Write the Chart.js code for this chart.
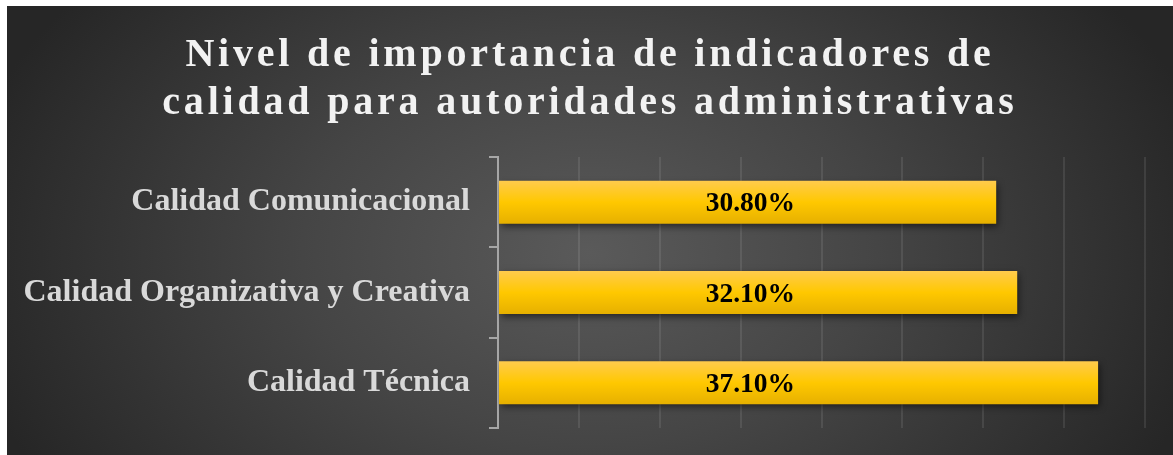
<!DOCTYPE html>
<html>
<head>
<meta charset="utf-8">
<script src="https://cdn.jsdelivr.net/npm/chart.js@4"></script>
<style>
  html, body { margin: 0; padding: 0; background: #ffffff; }
  #wrap {
    position: absolute;
    left: 7px; top: 6px;
    width: 1166px; height: 449px;
    background: radial-gradient(ellipse 640px 430px at 50% 55%, #5a5a5a 0%, #454545 45%, #262626 100%);
  }
  #title {
    position: absolute;
    left: 0; top: 23px; width: 100%;
    text-align: center;
    font-family: "Liberation Serif", "Times New Roman", serif;
    font-weight: bold;
    font-size: 40px;
    line-height: 48px;
    letter-spacing: 3.8px;
    color: #f2f2f2;
  }
  canvas { position: absolute; left: 0; top: 0; }
</style>
</head>
<body>
<div id="wrap">
  <canvas id="chart"></canvas>
  <div id="title">Nivel de importancia de indicadores de<br>calidad para autoridades administrativas</div>
</div>
<script>
// Data
const categories = ['Calidad Comunicacional', 'Calidad Organizativa y Creativa', 'Calidad Técnica'];
const percentages = [30.8, 32.1, 37.1];
const valueLabels = ['30.80%', '32.10%', '37.10%'];
const axisTicks = [0, 5, 10, 15, 20, 25, 30, 35, 40];

const ctx = document.getElementById('chart').getContext('2d');
const serif = '"Liberation Serif", "Times New Roman", serif';

// gold gradient per bar, built from the y scale
function barGradient(context) {
    const chart = context.chart;
    const y = chart.scales.y;
    if (!chart.chartArea || !y) return '#ffc800';
    const center = y.getPixelForValue(context.dataIndex);
    const half = 21.5;
    const g = chart.ctx.createLinearGradient(0, center - half, 0, center + half);
    g.addColorStop(0, '#ffcb4d');
    g.addColorStop(0.5, '#ffc800');
    g.addColorStop(1, '#e6b000');
    return g;
}

const shadowPlugin = {
    id: 'barShadow',
    beforeDatasetDraw(chart) {
        const c = chart.ctx;
        c.save();
        c.shadowColor = 'rgba(0, 0, 0, 0.55)';
        c.shadowBlur = 7;
        c.shadowOffsetX = 2;
        c.shadowOffsetY = 3;
    },
    afterDatasetDraw(chart) {
        chart.ctx.restore();
    }
};

const valueLabelPlugin = {
    id: 'valueLabels',
    afterDatasetsDraw(chart) {
        const c = chart.ctx;
        const x = chart.scales.x.getPixelForValue(15.6);
        c.save();
        c.font = 'bold 27.5px ' + serif;
        c.fillStyle = '#000000';
        c.textAlign = 'center';
        c.textBaseline = 'middle';
        chart.getDatasetMeta(0).data.forEach((bar, i) => {
            c.fillText(valueLabels[i], x, bar.y + 2);
        });
        c.restore();
    }
};

new Chart(ctx, {
    type: 'bar',
    data: {
        labels: categories,
        datasets: [{
            data: percentages,
            backgroundColor: barGradient,
            borderWidth: 0,
            categoryPercentage: 1,
            barPercentage: 0.476
        }]
    },
    options: {
        indexAxis: 'y',
        responsive: true,
        maintainAspectRatio: false,
        animation: false,
        layout: { padding: { top: 151, right: 28, bottom: 27, left: 0 } },
        plugins: {
            legend: { display: false },
            tooltip: { enabled: false }
        },
        scales: {
            x: {
                min: axisTicks[0],
                max: axisTicks[axisTicks.length - 1],
                afterBuildTicks: (scale) => { scale.ticks = axisTicks.map(v => ({ value: v })); },
                ticks: { display: false },
                grid: { color: 'rgba(255, 255, 255, 0.09)', lineWidth: 2, drawTicks: false },
                border: { display: false }
            },
            y: {
                afterFit: (scale) => {
                    scale.width = 491;
                    scale.paddingTop = 0;
                    scale.paddingBottom = 0;
                },
                ticks: {
                    color: '#d9d9d9',
                    padding: 19,
                    font: { family: serif, size: 32, weight: 'bold' }
                },
                grid: { drawOnChartArea: false, drawTicks: true, tickLength: 9, color: '#a6a6a6', lineWidth: 2 },
                border: { display: true, color: '#a6a6a6', width: 2 }
            }
        }
    },
    plugins: [shadowPlugin, valueLabelPlugin]
});
</script>
</body>
</html>
